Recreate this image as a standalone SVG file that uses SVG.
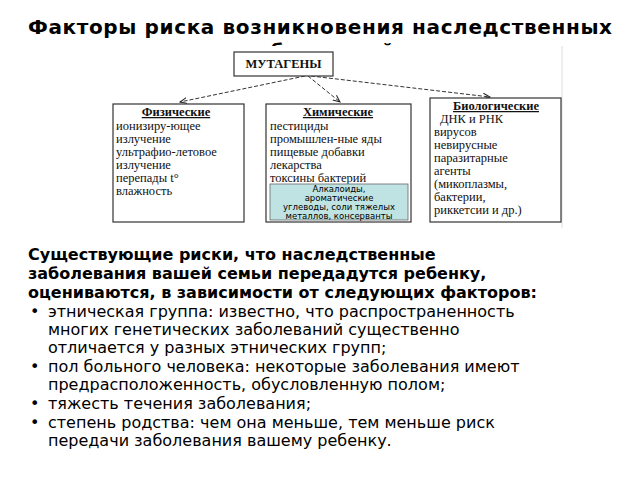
<svg xmlns="http://www.w3.org/2000/svg" width="640" height="480" viewBox="0 0 640 480">
<defs>
<marker id="ah" markerWidth="8" markerHeight="8" refX="7" refY="4" orient="auto"><path d="M0,1 L7,4 L0,7" fill="none" stroke="#222" stroke-width="1"/></marker>
</defs>
<style>
.t{font-family:"DejaVu Sans",sans-serif;fill:#000}
.s{font-family:"Liberation Serif",serif;font-size:12.5px;fill:#111}
.box{fill:#fff;stroke:#333;stroke-width:1.2}
.c{stroke:#333;stroke-width:1;stroke-dasharray:4 2;fill:none;marker-end:url(#ah)}
</style>
<rect width="640" height="480" fill="#fff"/>
<text class="t" x="320" y="34" font-size="20" font-weight="bold" text-anchor="middle" textLength="584">Факторы риска возникновения наследственных</text>
<text class="t" x="320" y="58" font-size="20" font-weight="bold" text-anchor="middle">заболеваний</text>
<rect x="112" y="46" width="451" height="182" fill="#fff"/>
<line x1="562" y1="46" x2="562" y2="228" stroke="#ddd"/>
<g id="connectors">
<path class="c" d="M305,76 L180,102"/>
<path class="c" d="M308,76 L340,102"/>
<path class="c" d="M311,76 L490,97"/>
</g>
<g id="mutageny">
<rect class="box" x="234" y="52" width="99" height="24"/>
<text class="s" x="283.5" y="68" text-anchor="middle" font-weight="bold" font-size="13">МУТАГЕНЫ</text>
</g>
<g id="phys">
<rect class="box" x="113" y="104" width="131" height="118"/>
<text class="s" x="176" y="116" text-anchor="middle" font-weight="bold" text-decoration="underline">Физические</text>
<text class="s" x="116" y="130">ионизиру-ющее</text>
<text class="s" x="116" y="143">излучение</text>
<text class="s" x="116" y="156">ультрафио-летовое</text>
<text class="s" x="116" y="169">излучение</text>
<text class="s" x="116" y="182">перепады t°</text>
<text class="s" x="116" y="195">влажность</text>
</g>
<g id="chem">
<rect class="box" x="266" y="104" width="145" height="118"/>
<text class="s" x="338" y="116" text-anchor="middle" font-weight="bold" text-decoration="underline">Химические</text>
<text class="s" x="270" y="130">пестициды</text>
<text class="s" x="270" y="143">промышлен-ные яды</text>
<text class="s" x="270" y="156">пищевые добавки</text>
<text class="s" x="270" y="169">лекарства</text>
<text class="s" x="270" y="182">токсины бактерий</text>
<rect x="270" y="184" width="138" height="36" fill="#bfe3e3" stroke="#666" stroke-width="0.8"/>
<text class="t" font-size="8.5" text-anchor="middle" fill="#333"><tspan x="339" y="192">Алкалоиды,</tspan><tspan x="339" y="201">ароматические</tspan><tspan x="339" y="210">углеводы, соли тяжелых</tspan><tspan x="339" y="219">металлов, консерванты</tspan></text>
</g>
<g id="bio">
<rect class="box" x="430" y="98" width="131" height="124"/>
<text class="s" x="496" y="110" text-anchor="middle" font-weight="bold" text-decoration="underline">Биологические</text>
<text class="s" x="440" y="123">ДНК и РНК</text>
<text class="s" x="434" y="136">вирусов</text>
<text class="s" x="434" y="149">невирусные</text>
<text class="s" x="434" y="162">паразитарные</text>
<text class="s" x="434" y="175">агенты</text>
<text class="s" x="434" y="188">(микоплазмы,</text>
<text class="s" x="434" y="201">бактерии,</text>
<text class="s" x="434" y="214">риккетсии и др.)</text>
</g>
<g id="body" class="t" font-size="16">
<text x="28" y="260" font-weight="bold">Существующие риски, что наследственные</text>
<text x="28" y="279" font-weight="bold">заболевания вашей семьи передадутся ребенку,</text>
<text x="28" y="298" font-weight="bold">оцениваются, в зависимости от следующих факторов:</text>
<text x="30" y="317">•</text><text x="48" y="317">этническая группа:  известно, что распространенность</text>
<text x="48" y="335">многих генетических заболеваний существенно</text>
<text x="48" y="353">отличается у разных этнических групп;</text>
<text x="30" y="372">•</text><text x="48" y="372">пол больного человека: некоторые заболевания имеют</text>
<text x="48" y="390">предрасположенность, обусловленную полом;</text>
<text x="30" y="409">•</text><text x="48" y="409">тяжесть течения заболевания;</text>
<text x="30" y="428">•</text><text x="48" y="428">степень родства: чем она меньше, тем меньше риск</text>
<text x="48" y="446">передачи заболевания вашему ребенку.</text>
</g>
</svg>
